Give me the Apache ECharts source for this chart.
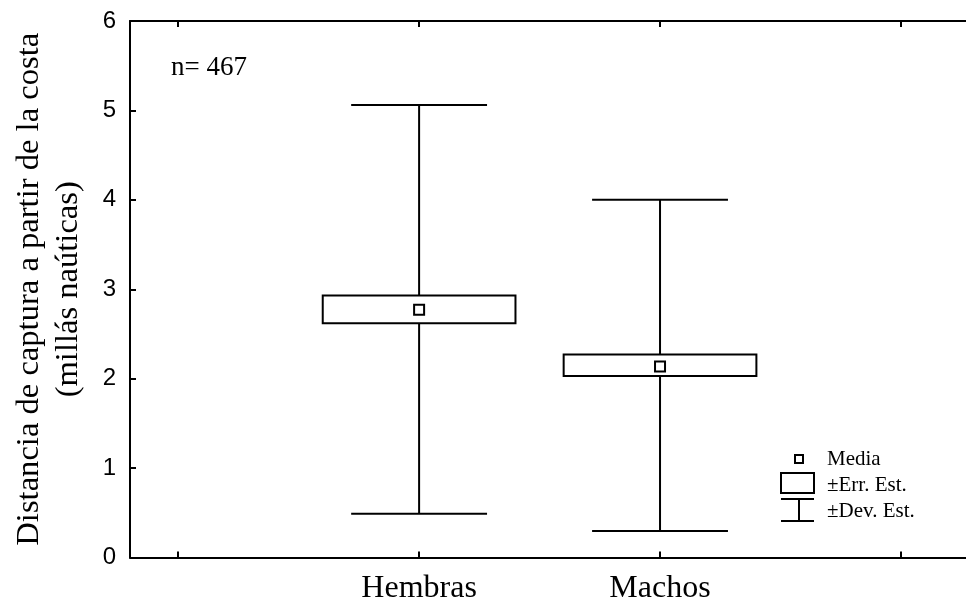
<!DOCTYPE html>
<html>
<head>
<meta charset="utf-8">
<script src="https://cdn.jsdelivr.net/npm/echarts@6/dist/echarts.min.js"></script>
<style>html,body{margin:0;padding:0;background:#fff}#c{width:966px;height:603px}</style>
</head>
<body>
<div id="c"></div>
<script>
// Data
var categories = ['Hembras', 'Machos'];
var categoryPos = [1, 2];
var means = [2.77, 2.135];
var seLow = [2.62, 2.03];
var seHigh = [2.93, 2.27];
var sdLow = [0.49, 0.295];
var sdHigh = [5.06, 4.0];
var yTicks = [0, 1, 2, 3, 4, 5, 6];
var nText = 'n= 467';
var legendLabels = ['Media', '±Err. Est.', '±Dev. Est.'];

var seriesData = categories.map(function (c, i) {
  return [categoryPos[i], means[i], seLow[i], seHigh[i], sdLow[i], sdHigh[i]];
});

var SERIF = '"Liberation Serif", "Times New Roman", serif';
var SANS = '"Liberation Sans", Arial, sans-serif';
var BOX_HALF = 0.4, CAP_HALF = 0.282;

var chart = echarts.init(document.getElementById('c'), null, {renderer: 'canvas'});

function renderItem(params, api) {
  var x = api.value(0);
  var pMean = api.coord([x, api.value(1)]);
  var pSeLo = api.coord([x, api.value(2)]);
  var pSeHi = api.coord([x, api.value(3)]);
  var pSdLo = api.coord([x, api.value(4)]);
  var pSdHi = api.coord([x, api.value(5)]);
  var boxL = api.coord([x - BOX_HALF, 0])[0];
  var boxR = api.coord([x + BOX_HALF, 0])[0];
  var capL = api.coord([x - CAP_HALF, 0])[0];
  var capR = api.coord([x + CAP_HALF, 0])[0];
  var st = {stroke: '#000', lineWidth: 2, fill: null};
  return {
    type: 'group',
    children: [
      {type: 'line', shape: {x1: pSdLo[0], y1: pSdLo[1], x2: pSdHi[0], y2: pSdHi[1]}, style: st},
      {type: 'line', shape: {x1: capL, y1: pSdHi[1], x2: capR, y2: pSdHi[1]}, style: st},
      {type: 'line', shape: {x1: capL, y1: pSdLo[1], x2: capR, y2: pSdLo[1]}, style: st},
      {type: 'rect', shape: {x: boxL, y: pSeHi[1], width: boxR - boxL, height: pSeLo[1] - pSeHi[1]},
        style: {stroke: '#000', lineWidth: 2, fill: '#fff'}},
      {type: 'rect', shape: {x: pMean[0] - 5, y: pMean[1] - 5, width: 10, height: 10},
        style: {stroke: '#000', lineWidth: 2, fill: '#fff'}}
    ]
  };
}

var option = {
  backgroundColor: '#fff',
  animation: false,
  grid: {left: 130, right: 0, top: 21, bottom: 45.5, containLabel: false, outerBoundsMode: 'none'},
  xAxis: [
    {
      type: 'value', position: 'bottom', min: -0.2, max: 3.27,
      axisLine: {show: true, onZero: false, lineStyle: {color: '#000', width: 2}},
      axisTick: {show: true, inside: true, length: 6, customValues: [0, 1, 2, 3], lineStyle: {color: '#000', width: 2}},
      axisLabel: {show: true, customValues: categoryPos, margin: 15,
        formatter: function (v) { var i = categoryPos.indexOf(Math.round(v)); return i >= 0 ? categories[i] : ''; },
        fontFamily: SERIF, fontSize: 32, color: '#000'},
      splitLine: {show: false}
    },
    {
      type: 'value', position: 'top', min: -0.2, max: 3.27,
      axisLine: {show: true, onZero: false, lineStyle: {color: '#000', width: 2}},
      axisTick: {show: true, inside: true, length: 6, customValues: [0, 1, 2, 3], lineStyle: {color: '#000', width: 2}},
      axisLabel: {show: false},
      splitLine: {show: false}
    }
  ],
  yAxis: {
    type: 'value', min: 0, max: 6, interval: 1,
    axisLine: {show: true, onZero: false, lineStyle: {color: '#000', width: 2}},
    axisTick: {show: true, inside: true, length: 6, lineStyle: {color: '#000', width: 2}},
    axisLabel: {margin: 14, fontFamily: SANS, fontSize: 24, color: '#000',
      formatter: function (v) { return yTicks.indexOf(v) >= 0 ? String(v) : ''; }},
    splitLine: {show: false},
    name: 'Distancia de captura a partir de la costa\n(millás naúticas)',
    nameLocation: 'middle', nameRotate: 90, nameGap: 42,
    nameTextStyle: {fontFamily: SERIF, fontSize: 32.6, color: '#000', lineHeight: 39}
  },
  series: [{
    type: 'custom', xAxisIndex: 0, renderItem: renderItem, data: seriesData,
    encode: {x: 0, y: [1, 2, 3, 4, 5]}, clip: false
  }],
  graphic: [
    {type: 'text', left: 171, top: 54, style: {text: nText, fontFamily: SERIF, fontSize: 27, fill: '#000'}},
    // legend icons
    {type: 'rect', shape: {x: 795, y: 455, width: 8, height: 8}, style: {stroke: '#000', lineWidth: 2, fill: '#fff'}},
    {type: 'rect', shape: {x: 781, y: 473, width: 33, height: 20}, style: {stroke: '#000', lineWidth: 2, fill: '#fff'}},
    {type: 'line', shape: {x1: 781, y1: 499, x2: 814, y2: 499}, style: {stroke: '#000', lineWidth: 2}},
    {type: 'line', shape: {x1: 799, y1: 499, x2: 799, y2: 521}, style: {stroke: '#000', lineWidth: 2}},
    {type: 'line', shape: {x1: 781, y1: 521, x2: 814, y2: 521}, style: {stroke: '#000', lineWidth: 2}},
    {type: 'text', x: 827, y: 459, style: {text: legendLabels[0], fontFamily: SERIF, fontSize: 21, fill: '#000', verticalAlign: 'middle'}},
    {type: 'text', x: 827, y: 485, style: {text: legendLabels[1], fontFamily: SERIF, fontSize: 21, fill: '#000', verticalAlign: 'middle'}},
    {type: 'text', x: 827, y: 511, style: {text: legendLabels[2], fontFamily: SERIF, fontSize: 21, fill: '#000', verticalAlign: 'middle'}}
  ]
};
chart.setOption(option);
</script>
</body>
</html>
